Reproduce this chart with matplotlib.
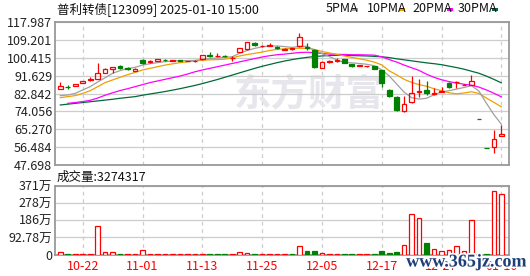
import numpy as np
import matplotlib
matplotlib.use('Agg')
import matplotlib.pyplot as plt
from matplotlib.patches import Rectangle
import matplotlib.patheffects as pe

plt.rcParams['font.family'] = ['Noto Sans CJK SC', 'DejaVu Sans']

title = "普利转债[123099] 2025-01-10 15:00"
vol_title = "成交量:3274317"
date_labels = ['10-22', '11-01', '11-13', '11-25', '12-05', '12-17', '12-27', '01-10']
price_ticks = [47.698, 56.484, 65.270, 74.056, 82.842, 91.629, 100.415, 109.201, 117.987]
vol_ticks = [0, 92.78, 185.56, 278.34, 371.12]
vol_tick_labels = ['0', '92.78万', '186万', '278万', '371万']
ma_names = ['5PMA', '10PMA', '20PMA', '30PMA']

open_ = [85.1, 86.1, 86.5, 87.9, 89.6, 90.1, 93.1, 94.7, 96.4, 95.2,
         93.9, 99.4, 98.5, 99.0, 99.5, 98.8, 99.1, 98.7, 98.7, 99.6,
         102.0, 101.2, 101.5, 100.2, 103.1, 104.6, 107.8, 106.0, 106.2, 105.9,
         104.4, 104.6, 106.0, 105.9, 104.2, 95.6, 98.5, 99.0, 99.8, 97.4,
         96.4, 96.2, 96.4, 94.4, 84.6, 81.3, 74.2, 78.8, 83.4, 84.6,
         82.4, 83.6, 88.2, 88.3, 87.0, 87.2, 70.25, 55.95, 56.5, 62.1]
high = [88.5, 87.0, 87.7, 89.2, 90.8, 97.8, 95.5, 96.1, 97.0, 95.9,
        95.2, 100.0, 99.3, 99.7, 99.8, 99.2, 99.2, 98.9, 99.3, 101.6,
        103.1, 102.6, 101.9, 101.3, 105.3, 108.4, 108.2, 106.6, 107.8, 106.3,
        105.1, 105.3, 112.5, 107.5, 104.5, 98.6, 99.3, 100.1, 99.9, 97.5,
        96.9, 96.6, 96.5, 94.6, 85.0, 81.6, 81.6, 91.6, 89.8, 89.0,
        85.4, 85.9, 88.5, 88.8, 87.5, 91.8, 70.25, 55.95, 64.9, 67.4]
low = [85.0, 84.9, 86.5, 87.8, 88.8, 90.0, 92.8, 93.1, 95.0, 94.2,
       93.7, 97.5, 98.0, 98.9, 98.7, 98.7, 98.7, 98.6, 98.3, 99.5,
       100.6, 100.6, 100.6, 98.7, 103.0, 104.4, 106.2, 105.6, 106.0, 104.6,
       104.1, 104.2, 105.8, 104.2, 95.5, 95.5, 98.0, 98.5, 97.9, 96.1,
       96.2, 96.1, 95.0, 86.2, 80.9, 74.2, 73.8, 78.0, 81.3, 82.1,
       82.1, 83.5, 85.7, 85.4, 86.9, 86.8, 70.15, 55.85, 53.8, 62.1]
close = [86.7, 85.9, 87.5, 89.0, 89.9, 92.8, 94.7, 96.0, 95.2, 95.0,
         94.9, 98.0, 98.8, 99.6, 99.3, 99.1, 98.8, 98.8, 98.9, 101.6,
         101.3, 101.5, 101.1, 100.4, 105.0, 108.2, 106.5, 106.2, 106.7, 105.2,
         104.8, 105.0, 110.5, 105.0, 96.0, 98.5, 98.8, 99.3, 98.0, 96.2,
         96.7, 96.5, 95.1, 87.8, 81.6, 74.7, 77.7, 82.9, 84.2, 83.0,
         83.3, 84.2, 85.9, 88.6, 87.2, 88.8, 70.15, 55.85, 60.3, 63.0]

ma5 = [81.8, 82.1, 82.9, 84.6, 86.2, 88.5, 90.6, 92.8, 94.1, 95.1,
       95.7, 96.8, 97.5, 98.0, 98.5, 98.8, 99.0, 99.0, 99.1, 99.6,
       100.0, 100.3, 100.6, 100.9, 102.6, 104.0, 105.0, 105.8, 106.2, 106.2,
       105.9, 105.5, 106.0, 106.0, 104.2, 102.5, 101.0, 99.3, 98.1, 97.9,
       97.6, 97.2, 96.5, 94.5, 91.5, 87.5, 83.5, 80.8, 80.1, 80.5,
       82.2, 83.6, 84.2, 85.0, 85.8, 86.7, 84.1, 78.1, 72.5, 67.8]
ma10 = [80.8, 81.3, 81.8, 82.9, 84.2, 86.2, 88.2, 89.5, 90.8, 92.1,
        93.2, 94.4, 95.2, 96.0, 96.8, 97.4, 98.0, 98.4, 98.8, 99.2,
        99.4, 99.5, 99.7, 100.4, 101.3, 102.0, 102.6, 103.2, 104.0, 104.5,
        104.8, 105.0, 105.1, 105.0, 104.5, 103.5, 102.8, 102.0, 101.3, 100.6,
        99.9, 99.2, 98.3, 96.9, 94.0, 92.0, 89.8, 88.3, 87.2, 86.4,
        85.2, 84.2, 83.2, 82.7, 83.1, 83.7, 82.9, 80.6, 78.5, 76.3]
ma20 = [np.nan, 78.0, 78.4, 78.9, 79.5, 80.6, 82.0, 83.2, 84.3, 85.2,
        86.2, 87.2, 88.2, 89.0, 89.8, 90.6, 91.4, 92.4, 93.5, 94.4,
        95.2, 96.0, 96.8, 97.6, 98.4, 99.2, 100.0, 100.8, 101.4, 101.9,
        102.2, 102.6, 103.0, 103.1, 102.9, 102.5, 102.2, 102.1, 102.0, 101.9,
        101.9, 101.8, 101.7, 100.9, 99.5, 98.3, 96.8, 95.5, 94.2, 92.3,
        90.8, 89.6, 88.7, 88.0, 87.4, 86.9, 86.0, 84.6, 83.0, 81.2]
ma30 = [77.2, 77.6, 78.0, 78.4, 78.8, 79.2, 79.6, 80.0, 80.5, 80.9,
        81.3, 82.0, 82.6, 83.2, 83.8, 84.5, 85.2, 86.0, 86.8, 87.7,
        88.7, 89.7, 90.8, 91.9, 93.0, 94.1, 95.2, 96.2, 97.1, 98.0,
        98.8, 99.5, 100.1, 100.6, 101.0, 101.3, 101.5, 101.6, 101.6, 101.5,
        101.4, 101.3, 101.1, 100.9, 100.5, 99.9, 99.4, 98.9, 98.4, 97.9,
        97.5, 97.0, 96.3, 95.6, 94.8, 93.8, 92.8, 91.4, 89.8, 88.1]

# volume in 万
volume = [14, 3, 3, 3, 3, 155, 14, 14, 3, 3,
          3, 23, 3, 3, 3, 3, 3, 3, 3, 3,
          3, 3, 3, 3, 14, 9, 3, 3, 3, 3,
          3, 3, 46, 20, 20, 9, 3, 3, 3, 3,
          3, 3, 3, 20, 9, 14, 51, 220, 196, 62,
          30, 20, 25, 45, 20, 187, 2, 2, 344, 327.4317]
vol_up = [1, 0, 1, 1, 1, 1, 1, 1, 0, 1,
          1, 1, 1, 1, 1, 1, 1, 1, 1, 1,
          0, 0, 0, 1, 1, 1, 0, 1, 1, 1,
          1, 0, 1, 0, 0, 1, 1, 1, 0, 0,
          1, 1, 0, 0, 0, 0, 1, 1, 1, 0,
          1, 1, 1, 1, 1, 1, 0, 0, 1, 1]

RED = '#ff0000'
GREEN = '#008000'
MA_COLORS = ['#a0a0a0', '#f0a000', '#ff00ff', '#006a3a']
GRID = '#cdcdcd'
FRAME = '#999999'

W, H = 530, 276
fig = plt.figure(figsize=(W / 100, H / 100), dpi=100)
fig.patch.set_facecolor('white')


def rect(l, t, r, b):
    return [l / W, 1 - b / H, (r - l) / W, (b - t) / H]


ax = fig.add_axes(rect(55, 22, 509, 165))
axv = fig.add_axes(rect(55, 186, 509, 254.5))

n = len(close)
x = np.arange(n)
o = np.array(open_); c = np.array(close); h = np.array(high); l = np.array(low)
up = c >= o
col = np.where(up, RED, GREEN)
bot = np.minimum(o, c)
top = np.maximum(o, c)
bh = np.maximum(top - bot, 0.12)

xmin, xmax = -0.71, n - 1 + 1.03
grid_x = np.linspace(3, n - 1, len(date_labels))

for a in (ax, axv):
    a.set_xlim(xmin, xmax)
    for xi in grid_x:
        a.axvline(xi, color=GRID, lw=0.9, ls=(0, (3, 3)), zorder=0)
    for s in a.spines.values():
        s.set_color(FRAME)
        s.set_linewidth(1.3)
    a.tick_params(length=0, labelsize=9, colors='#222222', pad=2)
    a.set_facecolor('white')

# watermark
ax.text(0.56, 0.49, '东方财富', transform=ax.transAxes, fontsize=27,
        fontweight='bold', color='#e6e6ec', ha='center', va='center', zorder=0)

# MA lines
for vals, cc in zip([ma30, ma20, ma10, ma5], MA_COLORS[::-1]):
    ax.plot(x, vals, color=cc, lw=0.9, zorder=2)

# candles
ax.vlines(x, l, bot, color=col, lw=0.9, zorder=3)
ax.vlines(x, top, h, color=col, lw=0.9, zorder=3)
ax.bar(x, bh, bottom=bot, width=0.62, facecolor=np.where(up, 'none', GREEN).tolist(),
       edgecolor=col, lw=0.9, zorder=4)

ax.set_ylim(price_ticks[0], price_ticks[-1])
ax.set_yticks(price_ticks)
ax.set_yticklabels(['%.3f' % v for v in price_ticks])
ax.yaxis.grid(True, color=GRID, lw=0.9, zorder=0)
ax.set_axisbelow(True)
ax.set_xticks([])

# volume
vu = np.array(vol_up) == 1
vcol = np.where(vu, RED, GREEN)
axv.bar(x, volume, width=0.62, facecolor=np.where(vu, 'white', GREEN).tolist(),
        edgecolor=vcol, lw=0.9, zorder=3)
axv.set_ylim(0, vol_ticks[-1])
axv.set_yticks(vol_ticks)
axv.set_yticklabels(vol_tick_labels)
axv.yaxis.grid(True, color=GRID, lw=0.9, zorder=0)
axv.set_axisbelow(True)
axv.set_xticks(grid_x)
axv.set_xticklabels(date_labels, color=RED)
axv.tick_params(axis='x', colors=RED, pad=4)

# header texts
fig.text(57 / W, 1 - 9 / H, title, fontsize=9, ha='left', va='center', color='#111111')
fig.text(57 / W, 1 - 177 / H, vol_title, fontsize=9, ha='left', va='center', color='#111111')

leg_x = [326, 367, 412, 458]
sw_x = [352, 399, 447, 492]
for name, lx, sx, cc in zip(ma_names, leg_x, sw_x, MA_COLORS):
    fig.text(lx / W, 1 - 9 / H, name, fontsize=9, ha='left', va='center', color='#111111')
    fig.add_artist(Rectangle((sx / W, 1 - 11 / H), 6 / W, 3 / H, transform=fig.transFigure,
                             facecolor=cc, edgecolor='none'))

# site watermark
fig.text(466 / W, 1 - 262 / H, 'www.365jz.com', fontsize=13, fontweight='bold',
         family=['Liberation Serif', 'DejaVu Serif'], color='#1d3f78', ha='center', va='center',
         path_effects=[pe.withStroke(linewidth=2.5, foreground='white')], zorder=10)

fig.savefig('out.png', dpi=100)
